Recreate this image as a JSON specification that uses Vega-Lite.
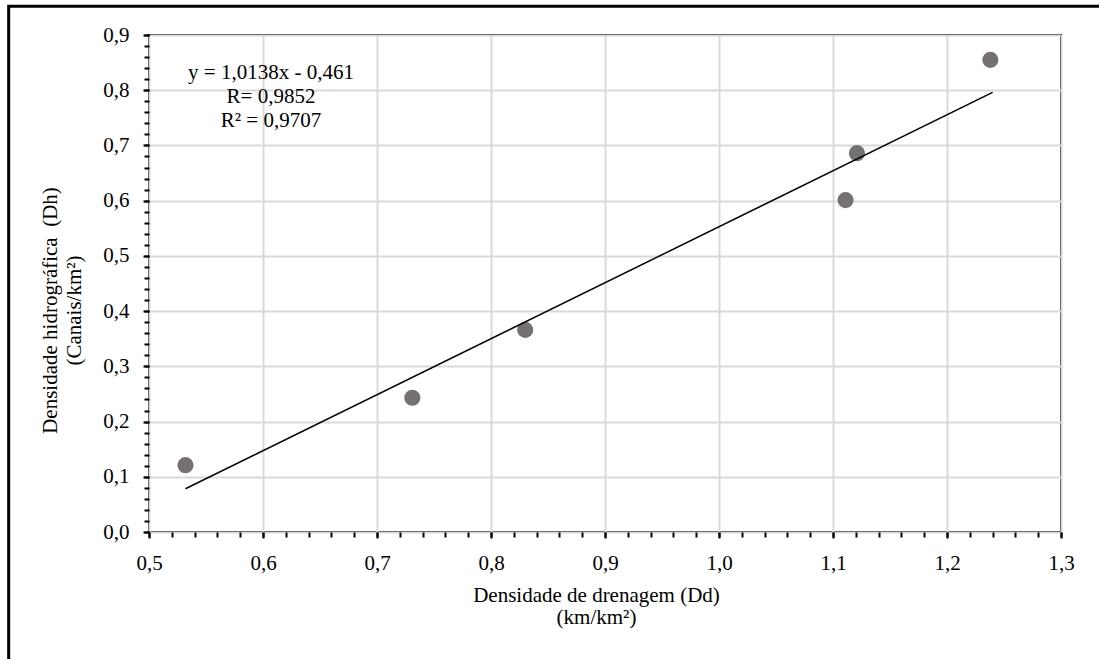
{
  "$schema": "https://vega.github.io/schema/vega-lite/v6.json",
  "width": 912,
  "height": 497,
  "autosize": "none",
  "padding": {"left": 149, "top": 35, "right": 38, "bottom": 127},
  "background": "white",
  "config": {
    "font": "Liberation Serif",
    "axis": {"labelFont": "Liberation Serif", "titleFont": "Liberation Serif", "labelColor": "black", "titleColor": "black", "labelFlush": false},
    "style": {
      "guide-label": {"font": "Liberation Serif", "fontSize": 21, "fill": "black"},
      "guide-title": {"font": "Liberation Serif", "fontSize": 21, "fontWeight": "normal", "fill": "black"}
    },
    "text": {"font": "Liberation Serif"},
    "view": {"stroke": "black", "strokeWidth": 2}
  },
  "datasets": {
    "pontos": [
      {"Dd": 0.532, "Dh": 0.121},
      {"Dd": 0.731, "Dh": 0.243},
      {"Dd": 0.830, "Dh": 0.366},
      {"Dd": 1.111, "Dh": 0.601},
      {"Dd": 1.121, "Dh": 0.686},
      {"Dd": 1.238, "Dh": 0.855}
    ],
    "ajuste": [
      {"Dd": 0.532, "Dh": 0.0783},
      {"Dd": 1.240, "Dh": 0.7961}
    ]
  },
  "resolve": {"axis": {"x": "independent", "y": "independent"}},
  "layer": [
    {
      "data": {"name": "pontos"},
      "mark": {"type": "circle", "size": 260, "color": "#767171", "opacity": 1},
      "encoding": {
        "x": {
          "field": "Dd", "type": "quantitative",
          "scale": {"domain": [0.5, 1.3], "nice": false, "zero": false},
          "axis": {
            "orient": "bottom",
            "values": [0.5, 0.6, 0.7, 0.8, 0.9, 1.0, 1.1, 1.2, 1.3],
            "labelExpr": "replace(format(datum.value, '.1f'), '.', ',')",
            "domain": false, "labelFlush": false,
            "grid": true, "gridColor": "#d9d9d9", "gridWidth": 2,
            "tickSize": 6, "tickWidth": 2, "tickColor": "black",
            "labelFont": "Liberation Serif", "labelFontSize": 21, "labelColor": "black",
            "labelPadding": 14, "labelBaseline": "top",
            "title": ["Densidade de drenagem (Dd)", "(km/km²)"],
            "titleFont": "Liberation Serif", "titleFontSize": 21, "titleFontWeight": "normal",
            "titleColor": "black", "titleLineHeight": 22,
            "titleAlign": "center", "titleBaseline": "alphabetic",
            "titleX": 447, "titleY": 69
          }
        },
        "y": {
          "field": "Dh", "type": "quantitative",
          "scale": {"domain": [0, 0.9], "nice": false},
          "axis": {
            "orient": "left",
            "values": [0, 0.1, 0.2, 0.3, 0.4, 0.5, 0.6, 0.7, 0.8, 0.9],
            "labelExpr": "replace(format(datum.value, '.1f'), '.', ',')",
            "domain": false, "labelFlush": false,
            "grid": true, "gridColor": "#d9d9d9", "gridWidth": 2,
            "tickSize": 6, "tickWidth": 2, "tickColor": "black",
            "labelFont": "Liberation Serif", "labelFontSize": 21, "labelColor": "black",
            "labelPadding": 14,
            "title": ["Densidade hidrográfica\u00a0 (Dh)", "(Canais/km²)"],
            "titleFont": "Liberation Serif", "titleFontSize": 21, "titleFontWeight": "normal",
            "titleColor": "black", "titleLineHeight": 24,
            "titleAngle": -90, "titleAlign": "center", "titleBaseline": "alphabetic",
            "titleX": -93, "titleY": 275
          }
        }
      }
    },
    {
      "data": {"name": "pontos"},
      "mark": {"type": "point", "opacity": 0},
      "encoding": {
        "x": {
          "field": "Dd", "type": "quantitative",
          "scale": {"domain": [0.5, 1.3], "nice": false, "zero": false},
          "axis": {
            "orient": "bottom", "title": null, "labels": false, "grid": false, "domain": false,
            "tickSize": 5, "tickWidth": 2, "tickColor": "black",
            "values": [0.5, 0.52, 0.54, 0.56, 0.58, 0.6, 0.62, 0.64, 0.66, 0.68, 0.7, 0.72, 0.74, 0.76, 0.78, 0.8, 0.82, 0.84, 0.86, 0.88, 0.9, 0.92, 0.94, 0.96, 0.98, 1.0, 1.02, 1.04, 1.06, 1.08, 1.1, 1.12, 1.14, 1.16, 1.18, 1.2, 1.22, 1.24, 1.26, 1.28, 1.3]
          }
        },
        "y": {
          "field": "Dh", "type": "quantitative",
          "scale": {"domain": [0, 0.9], "nice": false},
          "axis": {
            "orient": "left", "title": null, "labels": false, "grid": false, "domain": false,
            "tickSize": 5, "tickWidth": 2, "tickColor": "black",
            "values": [0, 0.02, 0.04, 0.06, 0.08, 0.1, 0.12, 0.14, 0.16, 0.18, 0.2, 0.22, 0.24, 0.26, 0.28, 0.3, 0.32, 0.34, 0.36, 0.38, 0.4, 0.42, 0.44, 0.46, 0.48, 0.5, 0.52, 0.54, 0.56, 0.58, 0.6, 0.62, 0.64, 0.66, 0.68, 0.7, 0.72, 0.74, 0.76, 0.78, 0.8, 0.82, 0.84, 0.86, 0.88, 0.9]
          }
        }
      }
    },
    {
      "data": {"name": "ajuste"},
      "mark": {"type": "line", "color": "black", "strokeWidth": 1.5},
      "encoding": {
        "x": {"field": "Dd", "type": "quantitative", "scale": {"domain": [0.5, 1.3], "nice": false, "zero": false}, "axis": null},
        "y": {"field": "Dh", "type": "quantitative", "scale": {"domain": [0, 0.9], "nice": false}, "axis": null}
      }
    },
    {
      "data": {"values": [{}]},
      "mark": {"type": "text", "font": "Liberation Serif", "fontSize": 21, "color": "black", "align": "center", "baseline": "alphabetic", "lineHeight": 24},
      "encoding": {
        "x": {"datum": 0.607, "type": "quantitative", "scale": {"domain": [0.5, 1.3], "nice": false, "zero": false}, "axis": null},
        "y": {"datum": 0.8212, "type": "quantitative", "scale": {"domain": [0, 0.9], "nice": false}, "axis": null},
        "text": {"value": ["y = 1,0138x - 0,461", "R= 0,9852", "R² = 0,9707"]}
      }
    },
    {
      "data": {"values": [{}]},
      "mark": {"type": "rect", "fill": null, "fillOpacity": 0, "stroke": "black", "strokeWidth": 3, "clip": false},
      "encoding": {
        "x": {"datum": 0.3769, "type": "quantitative", "scale": {"domain": [0.5, 1.3], "nice": false, "zero": false}, "axis": null},
        "x2": {"datum": 1.45},
        "y": {"datum": 0.9522, "type": "quantitative", "scale": {"domain": [0, 0.9], "nice": false}, "axis": null},
        "y2": {"datum": -0.3}
      }
    }
  ]
}
